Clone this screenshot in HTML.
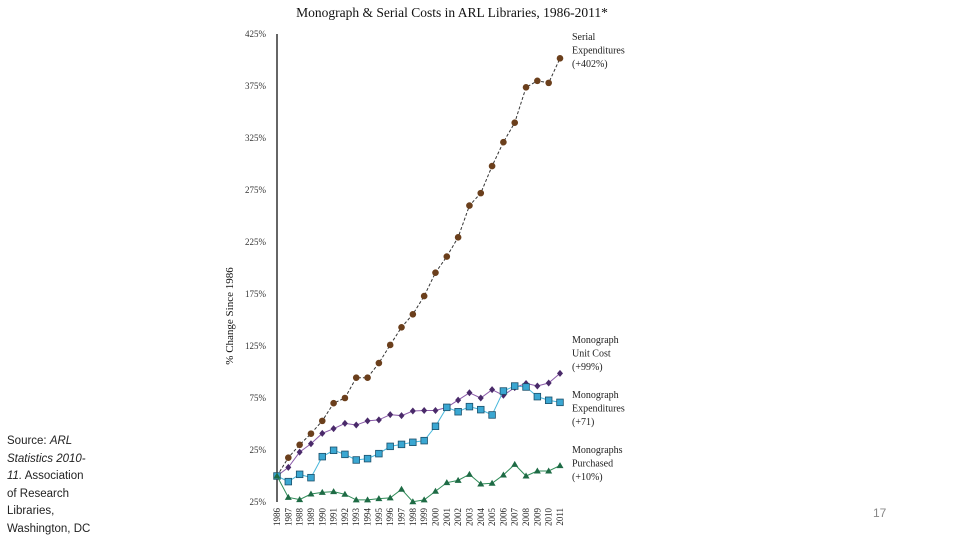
<!DOCTYPE html>
<html><head><meta charset="utf-8"><style>
html,body{margin:0;padding:0;background:#fff;width:960px;height:540px;overflow:hidden}
#src{position:absolute;left:7px;top:433px;white-space:nowrap;font:11.5px/17.5px "Liberation Sans",sans-serif;color:#222}
#pg{position:absolute;left:873px;top:506px;font:12px "Liberation Sans",sans-serif;color:#888}
svg{position:absolute;left:0;top:0}
</style></head><body>
<div id="src">Source: <i>ARL</i><br><i>Statistics 2010-</i><br><i>11.</i> Association<br>of Research<br>Libraries,<br>Washington, DC</div>
<div id="pg">17</div>
<svg id="chart" width="960" height="540"></svg>
<script>
const years = [1986,1987,1988,1989,1990,1991,1992,1993,1994,1995,1996,1997,1998,1999,2000,2001,2002,2003,2004,2005,2006,2007,2008,2009,2010,2011];
const serialExp = [0,17.6,30,40.7,53,70,75,94.5,94.5,108.6,126,143,155.5,173,195.5,211,229.5,260,272,298,321,339.7,373.7,380,378,401.6];
const unitCost = [0,8.3,23,31,41,45.5,50.6,49,53,54,59,58,62.5,63,63,66,73,80,75,83,77.6,85,89,86.5,89.4,98.7];
const monoExp = [0,-5.4,1.6,-1.6,18.6,24.7,20.8,15.4,16.7,21.5,28.5,30.4,32.4,34,47.8,66,61.8,66.7,63.8,58.7,81.7,86.5,85.6,76.3,72.8,70.8];
const purchased = [0,-20.5,-22.7,-17.3,-15.7,-15,-17.6,-23,-23,-21.8,-21,-12.8,-24.7,-23,-14.7,-6.4,-4.2,1.6,-7.7,-7,1,11.2,0,4.8,4.8,10];
const yTicks = [-25,25,75,125,175,225,275,325,375,425];
const yTickLabels = ["25%","25%","75%","125%","175%","225%","275%","325%","375%","425%"];

const NS="http://www.w3.org/2000/svg";
const svg=document.getElementById('chart');
const X0=277,X1=560,Y0=476;
function x(i){return X0+(X1-X0)*i/(years.length-1);}
function y(v){return Y0-v*52/50;}
function mk(t,a,p){const e=document.createElementNS(NS,t);for(const k in a)e.setAttribute(k,a[k]);(p||svg).appendChild(e);return e;}
const serif='"Liberation Serif",serif';

let t=mk('text',{x:452,y:17,'text-anchor':'middle','font-family':serif,'font-size':13.5,fill:'#111'});
t.textContent='Monograph & Serial Costs in ARL Libraries, 1986-2011*';



let ax=mk('line',{x1:X0,y1:y(425),x2:X0,y2:y(-25),stroke:'#000','stroke-width':1.2});



yTicks.forEach((v,i)=>{
  const l=mk('text',{x:X0-11,y:y(v)+3,'text-anchor':'end','font-family':serif,'font-size':9,fill:'#333'});
  l.textContent=yTickLabels[i];
  
  
});
let yt=mk('text',{x:0,y:0,'text-anchor':'middle','font-family':serif,'font-size':11,fill:'#111',transform:'translate(233,316) rotate(-90)'});
yt.textContent='% Change Since 1986';



years.forEach((yr,i)=>{
  const l=mk('text',{x:0,y:0,'text-anchor':'end','font-family':serif,'font-size':9,fill:'#222',transform:`translate(${x(i)+3},508) rotate(-90)`});
  l.textContent=yr;
  
  
});

function series(vals,name,lineCol,fill,shape,dash){
  const g=mk('g',{});
  
  
  mk('polyline',{points:vals.map((v,i)=>x(i)+','+y(v)).join(' '),fill:'none',stroke:lineCol,'stroke-width':1,'stroke-dasharray':dash||''},g);
  vals.forEach((v,i)=>{
    const cx=x(i),cy=y(v);let m;
    if(shape==='circle')m=mk('circle',{cx,cy,r:3.3,fill},g);
    else if(shape==='square')m=mk('rect',{x:cx-3.3,y:cy-3.3,width:6.6,height:6.6,fill,stroke:'#1b4f6a','stroke-width':0.8},g);
    else if(shape==='diamond')m=mk('polygon',{points:`${cx},${cy-3.5} ${cx+3},${cy} ${cx},${cy+3.5} ${cx-3},${cy}`,fill},g);
    else m=mk('polygon',{points:`${cx},${cy-3.5} ${cx+3.5},${cy+2.5} ${cx-3.5},${cy+2.5}`,fill},g);
    
    
  });
}
series(serialExp,'serial-expenditures','#333','#6b3f1c','circle','3,2');
series(unitCost,'monograph-unit-cost','#8a5aa8','#4a2a6a','diamond');
series(monoExp,'monograph-expenditures','#4ab8dc','#3aa7d2','square');
series(purchased,'monographs-purchased','#2e8b57','#1e6b45','triangle');

const labels=[
 ['serial-expenditures-label',572,40,['Serial','Expenditures','(+402%)']],
 ['monograph-unit-cost-label',572,343,['Monograph','Unit Cost','(+99%)']],
 ['monograph-expenditures-label',572,398,['Monograph','Expenditures','(+71)']],
 ['monographs-purchased-label',572,453,['Monographs','Purchased','(+10%)']]
];
labels.forEach(([n,lx,ly,lines])=>{
  const tx=mk('text',{x:lx,y:ly,'font-family':serif,'font-size':10,fill:'#222'});
  
  
  lines.forEach((s,k)=>{const sp=mk('tspan',{x:lx,dy:k?13.5:0},tx);sp.textContent=s;});
});
</script>
</body></html>
